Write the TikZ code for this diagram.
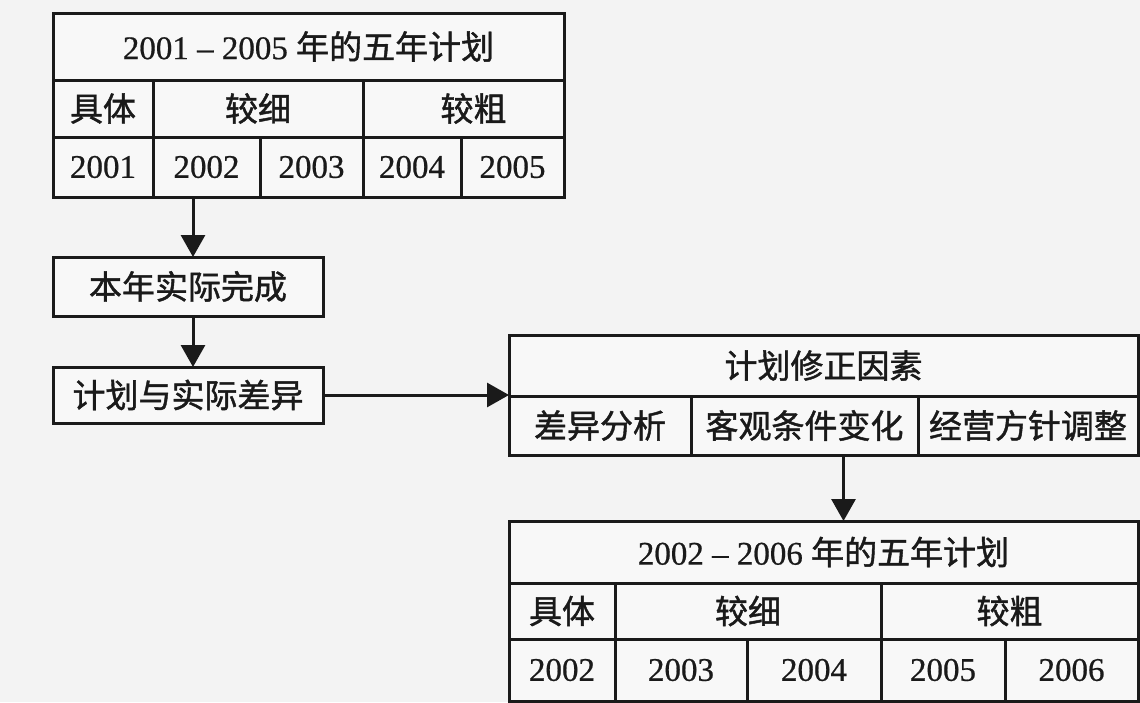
\documentclass[tikz,border=0pt]{standalone}
\usepackage{fontspec}
\setmainfont{Liberation Serif}[FakeBold=0.6]
\newfontfamily\cjk{Noto Sans CJK SC}[FakeBold=1.3]
\usetikzlibrary{arrows.meta}
\definecolor{ink}{HTML}{1A1A1A}
\definecolor{bg}{HTML}{F3F3F3}
\definecolor{cellbg}{HTML}{F8F8F8}
\newcommand\tcell[6]{\node[cellbox, minimum width={#4pt-#2pt}, minimum height={#5pt-#3pt}] (#1) at ({(#2+#4)/2},{(#3+#5)/2}) {#6};}
\begin{document}
\begin{tikzpicture}[x=1pt,y=-1pt,
  cellbox/.style={draw=ink, fill=cellbg, line width=3pt, inner sep=0pt, outer sep=0pt,
    font=\fontsize{33}{36}\selectfont, text=ink},
  arr/.style={draw=ink, line width=3pt, -{Triangle[length=22pt,width=24pt]}}]
\fill[bg] (0,0) rectangle (1140,702);
\useasboundingbox (0,0) rectangle (1140,702);
% top table: 2001-2005
\tcell{T1}{53}{13}{564}{197}{}
\tcell{t1title}{53}{13}{564}{80}{2001 – 2005 {\cjk 年的五年计划}}
\tcell{t1a}{53}{80}{153}{137}{\cjk 具体}
\tcell{t1b}{153}{80}{363}{137}{\cjk 较细}
\tcell{t1c}{363}{80}{564}{137}{\hspace*{20pt}\cjk 较粗}
\tcell{t1y1}{53}{137}{153}{197}{2001}
\tcell{t1y2}{153}{137}{260}{197}{2002}
\tcell{t1y3}{260}{137}{363}{197}{2003}
\tcell{t1y4}{363}{137}{461}{197}{2004}
\tcell{t1y5}{461}{137}{564}{197}{2005}
% process boxes
\tcell{B1}{53}{257}{323}{316}{\cjk 本年实际完成}
\tcell{B2}{53}{367}{323}{423}{\cjk 计划与实际差异}
% revision factors
\tcell{R}{509}{335}{1138}{455}{}
\tcell{rtitle}{509}{335}{1138}{396}{\cjk 计划修正因素}
\tcell{r1}{509}{396}{691}{455}{\cjk 差异分析}
\tcell{r2}{691}{396}{918}{455}{\cjk 客观条件变化}
\tcell{r3}{918}{396}{1138}{455}{\cjk 经营方针调整}
% bottom table: 2002-2006
\tcell{BT}{509}{521}{1138}{701}{}
\tcell{btitle}{509}{521}{1138}{583}{2002 – 2006 {\cjk 年的五年计划}}
\tcell{ba}{509}{583}{615}{639}{\cjk 具体}
\tcell{bb}{615}{583}{881}{639}{\cjk 较细}
\tcell{bc}{881}{583}{1138}{639}{\cjk 较粗}
\tcell{by1}{509}{639}{615}{701}{2002}
\tcell{by2}{615}{639}{747}{701}{\raisebox{-4pt}{2003}}
\tcell{by3}{747}{639}{881}{701}{\raisebox{-4pt}{2004}}
\tcell{by4}{881}{639}{1005}{701}{\raisebox{-4pt}{2005}}
\tcell{by5}{1005}{639}{1138}{701}{2006}
% connectors
\draw[arr] ([xshift=5pt]B1.north |- T1.south) -- ([xshift=5pt]B1.north);
\draw[arr] ([xshift=5pt]B1.south) -- ([xshift=5pt]B2.north);
\draw[arr] (B2.east) -- (R.west |- B2.east);
\draw[arr] ([xshift=20pt]R.south) -- ([xshift=20pt]BT.north);
\end{tikzpicture}
\end{document}
